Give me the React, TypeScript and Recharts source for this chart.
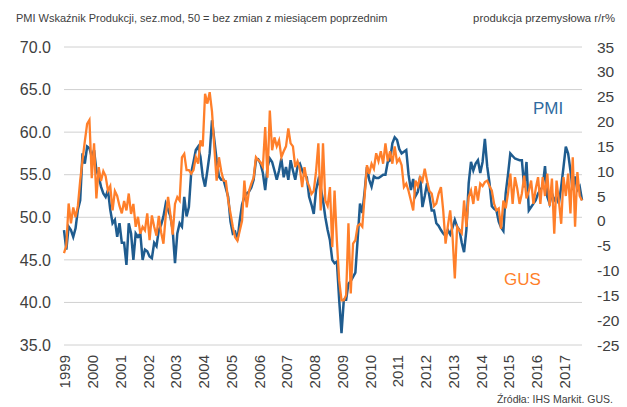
import { CartesianGrid, Line, LineChart, XAxis, YAxis } from 'recharts'

// lata na osi X (etykiety w styczniu)
const years = [1999, 2000, 2001, 2002, 2003, 2004, 2005, 2006, 2007, 2008, 2009, 2010, 2011, 2012, 2013, 2014, 2015, 2016, 2017]

// PMI - wskaznik produkcji (lewa os), miesiecznie od 01.1999
const pmi = [
	48.5, 46.2, 48.9, 48.5, 47.7, 48.7, 50.9, 52.0, 57.5, 56.3, 58.3, 58.1,
	57.1, 57.9, 55.5, 54.8, 53.6, 52.8, 52.4, 53.2, 50.9, 49.3, 49.7, 47.7,
	49.3, 47.0, 47.0, 44.4, 49.3, 48.1, 45.0, 48.1, 47.7, 48.1, 45.0, 46.2,
	46.0, 45.4, 45.2, 47.0, 46.6, 48.5, 49.1, 50.1, 51.6, 50.9, 50.1, 48.5,
	44.6, 48.1, 49.3, 48.9, 52.4, 50.1, 51.2, 55.2, 56.5, 57.9, 58.3, 57.1,
	54.8, 53.6, 55.5, 57.5, 61.4, 59.1, 56.7, 54.8, 54.4, 54.4, 53.4, 52.4,
	49.5, 48.1, 48.3, 47.3, 49.6, 51.5, 52.4, 52.8, 53.0, 53.5, 54.4, 56.7,
	56.8, 56.3, 55.2, 53.2, 55.9, 56.9, 56.5, 55.5, 54.4, 55.5, 56.9, 54.7,
	55.9, 54.4, 56.7, 55.5, 54.4, 56.0, 56.3, 55.5, 55.0, 54.7, 52.4, 51.5,
	50.4, 53.2, 54.4, 53.5, 52.0, 50.0, 48.5, 47.3, 45.0, 44.6, 44.8, 40.3,
	36.4, 40.3, 40.3, 42.2, 42.5, 43.0, 43.5, 47.5, 51.6, 50.5, 53.0, 55.9,
	54.4, 53.6, 54.8, 54.6, 54.6, 54.8, 55.0, 55.0, 56.5, 56.7, 58.7, 59.4,
	59.1, 58.0, 57.5, 57.7, 57.9, 55.0, 53.2, 54.5, 52.5, 53.0, 54.8, 51.2,
	52.5, 54.0, 52.5, 50.8, 50.8, 49.3, 49.0, 48.5, 48.1, 47.8, 48.5, 48.0,
	48.8, 49.7, 48.9, 48.5, 47.0, 45.9, 48.5, 54.0, 56.5, 55.5, 56.3, 56.7,
	55.2, 56.5, 59.2, 56.0, 54.0, 51.3, 51.0, 50.8, 49.5, 48.8, 48.4, 52.8,
	55.0, 57.5, 57.2, 56.9, 56.8, 56.7, 56.7, 53.5, 56.5, 50.8, 51.2, 51.6,
	52.0, 52.8, 53.2, 53.6, 56.0, 52.4, 51.6, 52.8, 52.0, 52.4, 51.6, 53.6,
	55.9, 58.3, 57.5, 55.5, 53.2, 54.8, 53.2, 53.6, 52.0,
]

// GUS - produkcja przemyslowa r/r % (prawa os)
const gus = [
	-6.5, -5.0, 3.5, -0.5, 2.7, 0.7, 3.0, 8.1, 12.2, 16.0, 19.5, 20.3,
	8.6, 15.6, 4.5, 10.8, 8.0, 10.0, 9.0, 6.1, 7.0, 2.1, 6.0, 5.0,
	3.0, 1.5, 4.0, 2.1, 5.5, 1.4, 3.4, -1.2, 0.8, -2.6, -1.2, -1.9,
	1.5, -3.9, 1.1, -1.2, -3.0, 1.0, -2.3, -4.6, 1.1, 4.8, 1.3, -2.8,
	3.4, 4.8, 4.1, 12.8, 13.5, 10.2, 10.2, 9.5, 10.2, 12.8, 11.5, 16.2,
	15.0, 25.6, 23.6, 25.9, 22.0, 14.8, 8.1, 12.8, 10.0, 8.1, 8.0, 4.1,
	1.5, -1.2, -3.3, -4.0, -2.0, 0.0, 8.1, 2.7, 6.0, 7.5, 8.7, 12.8,
	12.2, 11.8, 10.9, 18.9, 8.7, 22.2, 14.2, 16.8, 15.0, 16.2, 12.8, 14.0,
	15.0, 18.6, 15.6, 15.0, 10.8, 12.0, 10.5, 6.8, 10.8, 8.1, 7.0, 5.4,
	6.0, 10.0, 15.6, 2.1, 15.6, 4.1, 3.0, 6.8, -5.3, 6.1, -4.0, -12.0,
	-16.0, -16.0, -15.0, -0.5, -14.6, -4.6, -3.9, -1.0, -0.6, -1.2, 5.0, 11.2,
	9.5, 11.5, 10.5, 13.6, 12.0, 14.0, 11.5, 15.6, 12.0, 14.0, 11.5, 15.0,
	11.8, 12.5, 11.2, 6.8, 7.5, 6.0, 4.1, 2.1, 8.1, 7.0, 8.8, 8.0,
	10.5, 8.0, 6.0, 5.5, 3.0, 3.5, 5.5, 6.8, 2.0, -4.6, -1.0, 2.1,
	-3.0, -11.6, -1.2, -1.9, -2.5, 4.1, -1.2, 4.8, 6.1, 3.4, 7.0, 4.1,
	7.5, 7.0, 7.8, 8.1, 7.0, 6.1, 3.4, 2.1, 2.5, -1.6, 4.1, 2.5,
	5.5, 9.5, 3.4, 8.8, 6.5, 3.4, 5.5, 9.1, 4.5, 6.0, 8.1, 3.4,
	6.5, 8.8, 3.4, 8.8, 5.0, 9.5, 3.0, 8.5, -2.6, 8.1, 4.0, -0.6,
	8.8, 5.0, 9.5, 1.5, 12.8, -1.2, 9.8, 5.0, 4.1,
]

const leftTicks = [35, 40, 45, 50, 55, 60, 65, 70]
const rightTicks = [-25, -20, -15, -10, -5, 0, 5, 10, 15, 20, 25, 30, 35]

const months = pmi.map((_, i) => `${years[0] + Math.floor(i / 12)}-${String((i % 12) + 1).padStart(2, '0')}`)
const data = months.map((m, i) => ({ month: m, pmi: pmi[i], gus: gus[i] }))
const yearTicks = years.map((y) => `${y}-01`)

const FONT = '"Liberation Sans", Arial, sans-serif'
const TEXT = '#404040'
const BLUE = '#1f5c8f'
const ORANGE = '#ff7f2a'

function YearTick({ x, y, payload }: any) {
	return (
		<text
			x={0}
			y={0}
			transform={`translate(${x + 1},${y}) rotate(-90)`}
			textAnchor="end"
			dy="0.35em"
			fontSize={15}
			fontFamily={FONT}
			fill={TEXT}
		>
			{String(payload.value).slice(0, 4)}
		</text>
	)
}

export default function App() {
	return (
		<div style={{ position: 'absolute', left: 0, top: 0, width: 627, height: 407, background: '#fff', fontFamily: FONT }}>
			<LineChart width={627} height={407} data={data} margin={{ top: 47, right: 0, bottom: 0, left: 0 }}>
				<CartesianGrid vertical={false} stroke="#d0d0d0" />
				<XAxis
					dataKey="month"
					ticks={yearTicks}
					interval={0}
					height={62}
					axisLine={false}
					tickLine={false}
					tickSize={0}
					tickMargin={10}
					tick={<YearTick />}
				/>
				<YAxis
					yAxisId={0}
					orientation="left"
					domain={[35, 70]}
					ticks={leftTicks}
					width={64}
					axisLine={false}
					tickLine={false}
					tickSize={0}
					tickMargin={13}
					tickFormatter={(v: number) => v.toFixed(1)}
					tick={{ fontSize: 16, fill: TEXT, fontFamily: FONT }}
				/>
				<YAxis
					yAxisId="right"
					orientation="right"
					domain={[-25, 35]}
					ticks={rightTicks}
					width={45}
					axisLine={false}
					tickLine={false}
					tickSize={0}
					tickMargin={15}
					tick={{ fontSize: 15.5, fill: TEXT, fontFamily: FONT }}
				/>
				<Line yAxisId={0} type="linear" dataKey="pmi" stroke={BLUE} strokeWidth={2.5} dot={false} isAnimationActive={false} />
				<Line yAxisId="right" type="linear" dataKey="gus" stroke={ORANGE} strokeWidth={2.3} dot={false} isAnimationActive={false} />
			</LineChart>
			<div style={{ position: 'absolute', left: 16, top: 13, fontSize: 11, color: TEXT, whiteSpace: 'nowrap', lineHeight: 1 }}>
				PMI Wskaźnik Produkcji, sez.mod, 50 = bez zmian z miesiącem poprzednim
			</div>
			<div style={{ position: 'absolute', right: 12, top: 13, fontSize: 11.3, color: TEXT, whiteSpace: 'nowrap', lineHeight: 1 }}>
				produkcja przemysłowa r/r%
			</div>
			<div style={{ position: 'absolute', left: 533, top: 100, fontSize: 17, color: '#2f6aa0', lineHeight: 1 }}>PMI</div>
			<div style={{ position: 'absolute', left: 504, top: 271, fontSize: 17, color: ORANGE, lineHeight: 1 }}>GUS</div>
			<div style={{ position: 'absolute', right: 14, top: 394, fontSize: 10.5, color: TEXT, whiteSpace: 'nowrap', lineHeight: 1, fontFamily: '"Liberation Sans Narrow", "Liberation Sans", Arial, sans-serif' }}>
				Źródła: IHS Markit. GUS.
			</div>
		</div>
	)
}
